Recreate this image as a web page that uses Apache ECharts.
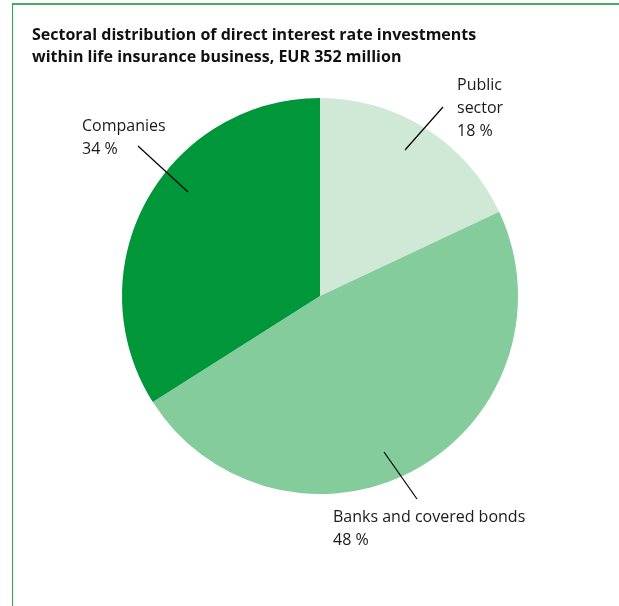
<!DOCTYPE html>
<html>
<head>
<meta charset="utf-8">
<script src="https://cdn.jsdelivr.net/npm/echarts@6/dist/echarts.min.js"></script>
<style>
 html, body { margin:0; padding:0; background:#fff; }
 #frame { position:absolute; left:12px; top:3px; width:607px; height:603px;
   border-top:2px solid #45ad62; border-left:1px solid #22b040; }
 #chart { position:absolute; left:0; top:0; width:619px; height:606px; }
</style>
</head>
<body>
<div id="frame"></div>
<div id="chart"></div>
<script>
var titleText = 'Sectoral distribution of direct interest rate investments\nwithin life insurance business, EUR 352 million';
var sectors = ['Public\nsector', 'Banks and covered bonds', 'Companies'];
var shares = [18, 48, 34];
var colors = ['#cfe9d6', '#84cc9c', '#00963a'];

// where each label sits and how its pointer line runs
var labelSpots = [
  { x: 457, y: 74, line: [[405, 150], [443, 107]] },
  { x: 333, y: 506, line: [[384, 452], [417, 499]] },
  { x: 82, y: 115, line: [[188, 192], [138, 146]] }
];

window.onload = function(){
 var chart = echarts.init(document.getElementById('chart'));
 var pieData = sectors.map(function(s, i){
   return { name: s, value: shares[i], itemStyle: { color: colors[i] } };
 });
 var pointerLines = labelSpots.map(function(s){
   return {
     type: 'polyline',
     z: 100,
     shape: { points: s.line },
     style: { stroke: '#000', lineWidth: 1.2, fill: null }
   };
 });
 var option = {
   animation: false,
   title: {
     text: titleText,
     left: 27,
     top: 19,
     textStyle: {
       fontFamily: 'Open Sans',
       fontWeight: 'bold',
       fontSize: 16,
       lineHeight: 22,
       color: '#111'
     }
   },
   graphic: pointerLines,
   series: [
   {
     type: 'pie',
     center: [320, 296],
     radius: 198,
     startAngle: 90,
     clockwise: true,
     data: pieData,
     itemStyle: { borderWidth: 0 },
     label: {
       show: true,
       position: 'outside',
       formatter: '{b}\n{c} %',
       fontFamily: 'Open Sans',
       fontSize: 16,
       lineHeight: 23,
       color: '#1a1a1a',
       align: 'left',
       overflow: 'none',
       width: 260
     },
     labelLine: { show: false },
     labelLayout: function(p){
       var s = labelSpots[p.dataIndex];
       return {
         x: s.x,
         y: s.y,
         align: 'left',
         verticalAlign: 'top'
       };
     }
   }
   ]
 };
 chart.setOption(option);
};
</script>
</body>
</html>
